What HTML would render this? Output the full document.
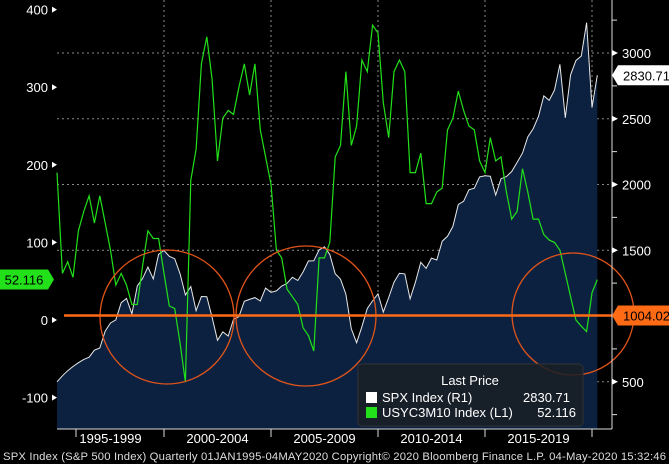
<!DOCTYPE html>
<html><head><meta charset="utf-8"><style>
html,body{margin:0;padding:0;background:#000;}
svg{display:block;font-family:"Liberation Sans",sans-serif;}
</style></head><body>
<svg id="chart" width="669" height="464" viewBox="0 0 669 464" xmlns="http://www.w3.org/2000/svg">
<rect x="0" y="0" width="669" height="464" fill="#000"/>
<g id="grid"></g>
<path id="area" fill="#0c2140"/>
<g id="overlay"></g>
</svg>
<script>
const spx=[500,545,584,616,645,670,687,740,757,885,947,970,1101,1133,1017,1229,1286,1372,1282,1469,1498,1454,1436,1320,1160,1224,1040,1148,1147,989,815,880,848,975,995,1112,1126,1140,1114,1212,1180,1191,1228,1248,1294,1270,1335,1418,1420,1503,1526,1468,1322,1280,1166,903,797,919,1057,1115,1169,1030,1141,1257,1325,1320,1131,1257,1408,1362,1440,1426,1569,1606,1681,1848,1872,1960,1972,2058,2067,2063,1920,2044,2060,2099,2168,2239,2362,2423,2519,2674,2640,2718,2914,2507,2834,2942,2977,3231,2585,2831];
const usyc=[190,60,75,55,115,140,160,125,160,125,90,45,60,45,20,20,70,115,105,105,60,18,15,-30,-80,180,220,330,365,310,205,260,270,265,300,330,290,330,245,210,175,90,80,40,30,20,-10,-20,-40,80,80,100,210,225,320,225,250,335,320,380,370,280,235,320,335,320,190,190,215,150,150,165,170,245,260,295,270,250,245,205,190,235,205,210,165,130,140,195,165,130,130,110,103,100,90,60,30,0,-8,-15,35,52];
const leftTicks=[400,300,200,100,0,-100];
const rightTicks=[500,1500,2000,2500,3000];
const rightMinor=[250,750,1250,1750,2250,2750,3250];
const xLabels=["1995-1999","2000-2004","2005-2009","2010-2014","2015-2019"];
const startYear=1995;
const NS="http://www.w3.org/2000/svg";
const X=t=>57+(t-startYear)*21.4;
const xi=i=>X(startYear+i/4);
const yL=v=>320-v*0.776;
const yR=v=>316-(v-1000)*0.1315;
const svg=document.getElementById('chart');
const ov=document.getElementById('overlay');
const grid=document.getElementById('grid');
function mk(tag,attrs,parent){const e=document.createElementNS(NS,tag);for(const k in attrs)e.setAttribute(k,attrs[k]);(parent||ov).appendChild(e);return e;}
// area
let d='M'+xi(0)+' 429';
spx.forEach((v,i)=>{d+=' L'+xi(i).toFixed(1)+' '+yR(v).toFixed(1);});
d+=' L'+xi(spx.length-1).toFixed(1)+' 429 Z';
document.getElementById('area').setAttribute('d',d);
// gridlines
rightTicks.forEach(v=>{const l=mk('line',{x1:57,x2:612,y1:yR(v),y2:yR(v),stroke:'#8a8a8a','stroke-width':1,'stroke-dasharray':'2,3'},grid);

});
[2000,2005,2010,2015,2020].forEach(t=>{const l=mk('line',{x1:X(t),x2:X(t),y1:0,y2:429,stroke:'#8a8a8a','stroke-width':1,'stroke-dasharray':'2,3'},grid);

});
// spx line
const sl=mk('polyline',{points:spx.map((v,i)=>xi(i).toFixed(1)+','+yR(v).toFixed(1)).join(' '),fill:'none',stroke:'#e8e8e8','stroke-width':1});


// usyc line
const gl=mk('polyline',{points:usyc.map((v,i)=>xi(i).toFixed(1)+','+yL(v).toFixed(1)).join(' '),fill:'none',stroke:'#22e01a','stroke-width':1.2});


// circles
[[167,317,67],[306,316,70],[573,314,61]].forEach(c=>{const e=mk('circle',{cx:c[0],cy:c[1],r:c[2],fill:'none',stroke:'#e0541a','stroke-width':1.3});

});
// orange level line
const ol=mk('line',{x1:64,x2:612,y1:yR(1004.02),y2:yR(1004.02),stroke:'#ff6a14','stroke-width':2.5});


// axes
const ra=mk('line',{x1:612,x2:612,y1:0,y2:429,stroke:'#ddd','stroke-width':1});


const ba=mk('line',{x1:57,x2:612,y1:429,y2:429,stroke:'#ddd','stroke-width':1});


leftTicks.forEach(v=>{const y=yL(v);
mk('path',{d:`M52 ${y-3} L57 ${y} L52 ${y+3} Z`,fill:'#fff'});
const t=mk('text',{x:48,y:y+5,'text-anchor':'end',fill:'#fff','font-size':13});t.textContent=v;

});
rightTicks.forEach(v=>{const y=yR(v);
mk('path',{d:`M612 ${y-3} L618 ${y} L612 ${y+3} Z`,fill:'#fff'});
const t=mk('text',{x:622,y:y+5,fill:'#fff','font-size':13});t.textContent=v;

});
rightMinor.forEach(v=>{const y=yR(v);mk('line',{x1:612,x2:617,y1:y,y2:y,stroke:'#ddd'});});
[1995,2000,2005,2010,2015,2020].forEach(t=>{mk('line',{x1:X(t)+(t==1995?19:0),x2:X(t)+(t==1995?19:0),y1:429,y2:437,stroke:'#ddd'});});
xLabels.forEach((s,i)=>{const t=mk('text',{x:X(startYear+5*i+2.5),y:443,'text-anchor':'middle',fill:'#fff','font-size':13});t.textContent=s;

});
// value labels
function tag(x,y,w,fill,color,txt,name,left){const g=mk('g',{});


const p=left?`M${x} ${y} h${w} l6 10 l-6 10 h-${w} Z`:`M${x} ${y+10} l6 -10 h${w} v20 h-${w} Z`;
mk('path',{d:p,fill:fill},g);
const t=mk('text',{x:left?x+w/2:x+6+w/2,y:y+15,'text-anchor':'middle',fill:color,'font-size':13},g);t.textContent=txt;}
tag(0,yL(52.116)-10,48,'#22e01a','#000','52.116','usyc-last-value-tag',true);
tag(612,yR(2830.71)-10,57,'#fff','#000','2830.71','spx-last-value-tag',false);
tag(612,yR(1004.02)-10,57,'#ff6a14','#000','1004.02','level-value-tag',false);
// legend
const lg=mk('g',{});


mk('rect',{x:358,y:364,width:225,height:62,rx:4,fill:'#1a1f26','fill-opacity':0.85,stroke:'#333'},lg);
let t=mk('text',{x:470,y:385,'text-anchor':'middle',fill:'#fff','font-size':13},lg);t.textContent='Last Price';
mk('rect',{x:366,y:392,width:11,height:11,fill:'#fff'},lg);
t=mk('text',{x:382,y:402,fill:'#fff','font-size':13},lg);t.textContent='SPX Index  (R1)';
t=mk('text',{x:570,y:402,'text-anchor':'end',fill:'#fff','font-size':13},lg);t.textContent='2830.71';
mk('rect',{x:366,y:407,width:11,height:11,fill:'#22e01a'},lg);
t=mk('text',{x:382,y:417,fill:'#fff','font-size':13},lg);t.textContent='USYC3M10 Index  (L1)';
t=mk('text',{x:576,y:417,'text-anchor':'end',fill:'#fff','font-size':13},lg);t.textContent='52.116';
// footer
t=mk('text',{x:3,y:460,fill:'#ddd','font-size':11.3,textLength:663});t.textContent='SPX Index (S&P 500 Index)  Quarterly 01JAN1995-04MAY2020  Copyright© 2020 Bloomberg Finance L.P.   04-May-2020 15:32:46';


</script>
</body></html>
